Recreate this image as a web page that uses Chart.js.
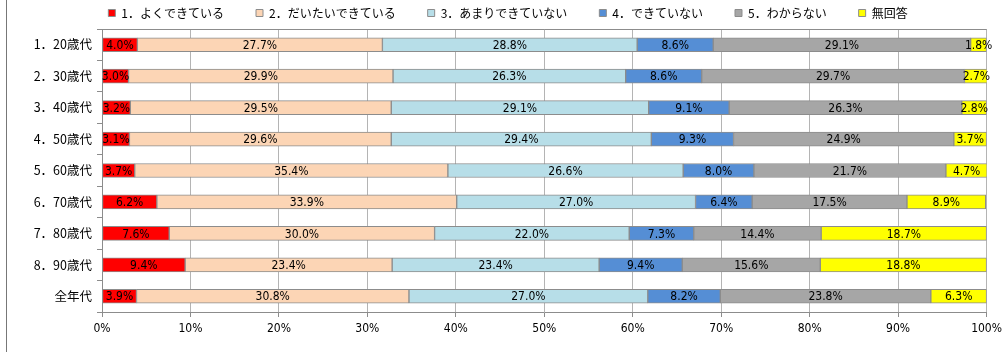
<!DOCTYPE html>
<html>
<head>
<meta charset="utf-8">
<script src="https://cdn.jsdelivr.net/npm/chart.js@4.4.1/dist/chart.umd.min.js"></script>
<style>
  body { margin: 0; background: #fff; }
  #wrap { position: relative; width: 1007px; height: 352px; }
</style>
</head>
<body>
<div id="wrap"><canvas id="chart-ages" width="1007" height="352"></canvas></div>
<script>
const ageGroups = ["1．20歳代", "2．30歳代", "3．40歳代", "4．50歳代", "5．60歳代", "6．70歳代", "7．80歳代", "8．90歳代", "全年代"]

const seriesNames = ["1．よくできている", "2．だいたいできている", "3．あまりできていない", "4．できていない", "5．わからない", "無回答"]
const seriesColors = ["#ff0000", "#fcd5b5", "#b7dee8", "#558ed5", "#a6a6a6", "#ffff00"]

const wellDone = [4.0, 3.0, 3.2, 3.1, 3.7, 6.2, 7.6, 9.4, 3.9]
const mostlyDone = [27.7, 29.9, 29.5, 29.6, 35.4, 33.9, 30.0, 23.4, 30.8]
const notMuch = [28.8, 26.3, 29.1, 29.4, 26.6, 27.0, 22.0, 23.4, 27.0]
const notDone = [8.6, 8.6, 9.1, 9.3, 8.0, 6.4, 7.3, 9.4, 8.2]
const dontKnow = [29.1, 29.7, 26.3, 24.9, 21.7, 17.5, 14.4, 15.6, 23.8]
const noAnswer = [1.8, 2.7, 2.8, 3.7, 4.7, 8.9, 18.7, 18.8, 6.3]

const xTicks = [0, 10, 20, 30, 40, 50, 60, 70, 80, 90, 100]

const allSeries = [wellDone, mostlyDone, notMuch, notDone, dontKnow, noAnswer]

const narrowFont = "'Liberation Sans Narrow', 'Arial Narrow', 'DejaVu Sans', sans-serif"

// labels in the middle of each segment
const segmentLabels = {
    id: "segmentLabels",
    afterDatasetsDraw(chart) {
        const ctx = chart.ctx
        ctx.save()
        ctx.font = "condensed 12px " + narrowFont
        ctx.fillStyle = "#000"
        ctx.textAlign = "center"
        ctx.textBaseline = "middle"
        chart.data.datasets.forEach((ds, i) => {
            const meta = chart.getDatasetMeta(i)
            meta.data.forEach((bar, j) => {
                const cx = (bar.x + bar.base) / 2
                ctx.fillText(ds.data[j].toFixed(1) + "%", cx, bar.y + 1)
            })
        })
        ctx.restore()
    }
}

// top edge of the plot and the outer frame line
const frameLines = {
    id: "frameLines",
    beforeDatasetsDraw(chart) {
        const { ctx, chartArea } = chart
        ctx.save()
        ctx.strokeStyle = "#8c8c8c"
        ctx.lineWidth = 1
        ctx.beginPath()
        ctx.moveTo(chartArea.left, Math.round(chartArea.top) + 0.5)
        ctx.lineTo(chartArea.right, Math.round(chartArea.top) + 0.5)
        ctx.stroke()
        ctx.strokeStyle = "#777"
        ctx.beginPath()
        ctx.moveTo(6.5, 0)
        ctx.lineTo(6.5, chart.height)
        ctx.stroke()
        ctx.restore()
    }
}

const ctx = document.getElementById("chart-ages").getContext("2d")
const myChart = new Chart(ctx, {
    type: "bar",
    data: {
        labels: ageGroups,
        datasets: allSeries.map((data, i) => ({
            label: seriesNames[i],
            data,
            backgroundColor: seriesColors[i],
            borderColor: "#8c8c8c",
            borderWidth: 1,
            borderSkipped: false,
            barThickness: 14
        }))
    },
    options: {
        indexAxis: "y",
        responsive: false,
        animation: false,
        devicePixelRatio: 1,
        // legend padding is also vertical, so pull it up
        layout: { padding: { top: -25, right: 15, left: 24, bottom: 0 } },
        plugins: {
            tooltip: { enabled: false },
            legend: {
                position: "top",
                labels: {
                    boxWidth: 7,
                    boxHeight: 7,
                    padding: 32,
                    color: "#000",
                    font: { size: 12, family: "'Noto Sans CJK JP', sans-serif" }
                }
            }
        },
        scales: {
            x: {
                stacked: true,
                min: 0,
                max: 100,
                afterBuildTicks: (scale) => {
                    scale.ticks = xTicks.map((v) => ({ value: v }))
                },
                afterFit: (scale) => { scale.height = 40 },
                grid: {
                    color: "#b4b4b4",
                    tickColor: "#8c8c8c",
                    tickLength: 5
                },
                border: { color: "#8c8c8c" },
                ticks: {
                    padding: 5,
                    maxRotation: 0,
                    color: "#000",
                    font: { size: 12, weight: "condensed", family: narrowFont },
                    callback: (v) => v + "%"
                }
            },
            y: {
                stacked: true,
                afterFit: (scale) => { scale.width = 78 },
                grid: {
                    offset: true,
                    drawOnChartArea: false,
                    tickColor: "#8c8c8c",
                    tickLength: 5
                },
                border: { color: "#8c8c8c" },
                ticks: {
                    padding: 5,
                    color: "#000",
                    font: { size: 12.5, family: "'Noto Sans CJK JP', sans-serif" }
                }
            }
        }
    },
    plugins: [segmentLabels, frameLines]
})
</script>
</body>
</html>
